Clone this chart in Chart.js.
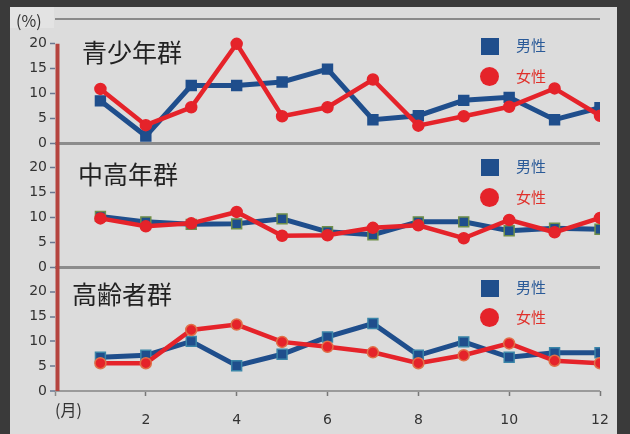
<!DOCTYPE html>
<html lang="ja">
<head>
<meta charset="utf-8">
<script src="https://cdn.jsdelivr.net/npm/chart.js@4/dist/chart.umd.min.js"></script>
<style>
  html, body { margin: 0; padding: 0; }
  body { width: 630px; height: 434px; background: #3a3a3a; position: relative; overflow: hidden;
         font-family: "Noto Sans CJK JP", "DejaVu Sans", sans-serif; }
  #panel { position: absolute; left: 10px; top: 7px; width: 607px; height: 427px; background: #dcdcdc; }
  #unitbox { position: absolute; left: 10px; top: 7px; width: 44px; height: 21px; background: #e3e3e3; }
  #wrap { position: absolute; left: 0; top: 0; width: 630px; height: 434px; }
  .lbl { position: absolute; white-space: nowrap; line-height: 1; }
  .title { font-size: 25px; color: #222; }
  .unit { font-size: 16px; color: #333; }
  .leg { font-size: 15px; }
  .sq { position: absolute; width: 18px; height: 17px; background: #1f4e8c; }
  .dot { position: absolute; width: 19px; height: 19px; border-radius: 50%; background: #e5232a; }
</style>
</head>
<body>
<div id="panel"></div>
<div id="unitbox"></div>
<div id="wrap"><canvas id="chart"></canvas></div>

<div class="lbl unit" style="left:16px; top:12px;">(%)</div>
<div class="lbl unit" style="left:55px; top:401px;">(月)</div>

<div class="lbl title" style="left:82px; top:39px;">青少年群</div>
<div class="lbl title" style="left:78px; top:161px;">中高年群</div>
<div class="lbl title" style="left:72px; top:281px;">高齢者群</div>

<!-- légendes de chaque panneau -->
<div class="sq" style="left:481px; top:38px;"></div>
<div class="lbl leg" style="left:516px; top:37px; color:#2a5a98;">男性</div>
<div class="dot" style="left:480px; top:67px;"></div>
<div class="lbl leg" style="left:516px; top:68px; color:#e0302a;">女性</div>

<div class="sq" style="left:481px; top:159px;"></div>
<div class="lbl leg" style="left:516px; top:158px; color:#2a5a98;">男性</div>
<div class="dot" style="left:480px; top:188px;"></div>
<div class="lbl leg" style="left:516px; top:189px; color:#e0302a;">女性</div>

<div class="sq" style="left:481px; top:280px;"></div>
<div class="lbl leg" style="left:516px; top:279px; color:#2a5a98;">男性</div>
<div class="dot" style="left:480px; top:308px;"></div>
<div class="lbl leg" style="left:516px; top:309px; color:#e0302a;">女性</div>

<script>
// Données (%)
const months = [1, 2, 3, 4, 5, 6, 7, 8, 9, 10, 11, 12];
const xTicks = [2, 4, 6, 8, 10, 12];
const yTicks = [0, 5, 10, 15, 20];

const youthMale = [8.5, 1.4, 11.6, 11.6, 12.3, 14.9, 4.7, 5.5, 8.6, 9.2, 4.7, 7.1];
const youthFemale = [10.9, 3.6, 7.2, 20, 5.4, 7.2, 12.8, 3.5, 5.4, 7.3, 11, 5.5];
const middleMale = [10.2, 9.1, 8.6, 8.7, 9.7, 7.1, 6.5, 9.1, 9.1, 7.3, 7.8, 7.6];
const middleFemale = [9.8, 8.2, 8.8, 11.1, 6.3, 6.4, 7.9, 8.4, 5.8, 9.5, 7, 9.9];
const seniorMale = [6.8, 7.2, 10, 5.1, 7.4, 10.9, 13.6, 7.2, 9.9, 6.8, 7.7, 7.7];
const seniorFemale = [5.6, 5.6, 12.3, 13.4, 9.9, 8.9, 7.8, 5.6, 7.2, 9.6, 6.1, 5.6];

const BLUE = '#1f4e8c';
const RED = '#e5232a';
const GRID = '#8c8c8c';

function pts(values) {
    return months.map((m, i) => ({ x: m, y: values[i] }));
}

function serie(values, axis, isMale, borderPt) {
    return {
        data: pts(values),
        yAxisID: axis,
        borderColor: isMale ? BLUE : RED,
        backgroundColor: isMale ? BLUE : RED,
        pointBorderColor: borderPt || (isMale ? BLUE : RED),
        pointBorderWidth: 1.5,
        borderWidth: isMale ? 5 : 4.5,
        pointStyle: isMale ? 'rect' : 'circle',
        pointRadius: isMale ? 7 : 5.5,
        tension: 0
    };
}

// axe y d'un panneau (0 à 25, seul 0..20 affiché)
function panelAxis(isTop, isBottom) {
    return {
        type: 'linear',
        position: 'left',
        stack: 'panels',
        stackWeight: 1,
        min: 0,
        max: 25,
        afterFit: s => { s.width = 55; },
        afterBuildTicks: s => {
            s.ticks = yTicks.concat([25]).map(v => ({ value: v }));
        },
        border: { display: false },
        grid: {
            drawTicks: true,
            tickLength: 5,
            color: c => {
                if (c.tick && c.tick.value === 0) return isBottom ? '#9a9a9a' : GRID;
                if (isTop && c.tick && c.tick.value === 25) return '#8a8a8a';
                return 'rgba(0,0,0,0)';
            },
            lineWidth: c => (c.tick && c.tick.value === 25) || isBottom ? 2 : 3,
            tickColor: c => (c.tick && c.tick.value === 25) ? 'rgba(0,0,0,0)' : '#6a7890',
            tickWidth: 1.5
        },
        ticks: {
            autoSkip: false,
            padding: 3,
            color: '#333',
            font: { family: 'DejaVu Sans', size: 14 },
            callback: v => (v === 25 ? '' : v)
        }
    };
}

// Ligne rouge de l'axe vertical
const redAxis = {
    id: 'redAxis',
    afterDatasetsDraw(chart) {
        const ctx = chart.ctx;
        const x = chart.chartArea.left + 2.5;
        const top = chart.scales.y1.getPixelForValue(20);
        ctx.save();
        ctx.strokeStyle = '#b5443f';
        ctx.lineWidth = 4;
        ctx.beginPath();
        ctx.moveTo(x, top);
        ctx.lineTo(x, chart.chartArea.bottom);
        ctx.stroke();
        ctx.restore();
    }
};

document.addEventListener('DOMContentLoaded', function() {
    const ctx = document.getElementById('chart').getContext('2d');
    new Chart(ctx, {
        type: 'line',
        data: {
            datasets: [
                serie(youthFemale, 'y1', false),
                serie(youthMale, 'y1', true),
                serie(middleFemale, 'y2', false),
                serie(middleMale, 'y2', true, '#6f8f4a'),
                serie(seniorFemale, 'y3', false, '#e07048'),
                serie(seniorMale, 'y3', true, '#3a85a8')
            ]
        },
        options: {
            responsive: true,
            maintainAspectRatio: false,
            animation: false,
            layout: { padding: { top: 19, right: 30, bottom: 0, left: 0 } },
            plugins: { legend: { display: false }, tooltip: { enabled: false } },
            scales: {
                x: {
                    type: 'linear',
                    min: 0,
                    max: 12,
                    afterFit: s => { s.height = 43; },
                    afterBuildTicks: s => {
                        s.ticks = [0].concat(xTicks).map(v => ({ value: v }));
                    },
                    border: { display: false },
                    grid: {
                        drawOnChartArea: false,
                        drawTicks: true,
                        tickLength: 5,
                        tickColor: c => (c.tick && c.tick.value === 0) ? '#8a8a8a' : '#777',
                        tickWidth: 1.5
                    },
                    ticks: {
                        autoSkip: false,
                        padding: 16,
                        maxRotation: 0,
                        color: '#333',
                        font: { family: 'DejaVu Sans', size: 14 },
                        callback: v => (v === 0 ? '' : v)
                    }
                },
                y3: panelAxis(false, true),
                y2: panelAxis(false, false),
                y1: panelAxis(true, false)
            }
        },
        plugins: [redAxis]
    });
});
</script>
</body>
</html>
